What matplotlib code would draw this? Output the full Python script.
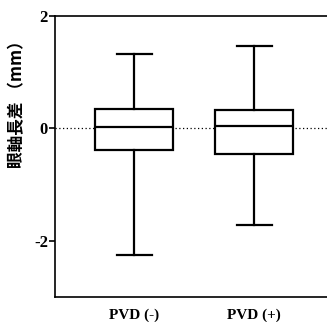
import matplotlib
matplotlib.use("Agg")
import matplotlib.pyplot as plt

# 箱ひげ図の値 (眼軸長差, mm)
groups = ["PVD (-)", "PVD (+)"]
whislo = [-2.25, -1.72]
q1 = [-0.39, -0.46]
med = [0.02, 0.04]
q3 = [0.34, 0.32]
whishi = [1.33, 1.47]
yticks = [-2, 0, 2]

stats = []
for i, g in enumerate(groups):
    stats.append({"label": g, "whislo": whislo[i], "q1": q1[i], "med": med[i],
                  "q3": q3[i], "whishi": whishi[i], "fliers": []})

fig = plt.figure(figsize=(3.27, 3.22), dpi=100)
# 右側は画像の外まで続く
ax = fig.add_axes([55 / 327, 25 / 322, 300 / 327, 281 / 322])

ax.axhline(0, color="black", linestyle=(0, (1, 2)), linewidth=0.9, zorder=1)

lw = 1.6
ax.bxp(stats, positions=[1, 2], widths=0.65, capwidths=0.29, showfliers=False,
       patch_artist=True,
       boxprops=dict(facecolor="white", edgecolor="black", linewidth=lw),
       medianprops=dict(color="black", linewidth=lw),
       whiskerprops=dict(color="black", linewidth=lw),
       capprops=dict(color="black", linewidth=lw),
       zorder=3)

ax.set_xlim(0.34, 0.34 + 300 / 120)
ax.set_ylim(-3, 2)
ax.set_yticks(yticks)
ax.set_yticklabels([str(t) for t in yticks], fontfamily="Liberation Serif",
                   fontweight="bold", fontsize=12)
ax.tick_params(axis="y", direction="out", length=4, width=1.2, pad=1)
ax.tick_params(axis="x", length=0, pad=8)
ax.set_xticklabels(groups, fontfamily="Liberation Serif", fontweight="bold", fontsize=11)
for s in ax.spines.values():
    s.set_linewidth(1.2)
ax.spines["right"].set_visible(False)

fig.text(17 / 327, 1 - 100 / 322, "眼軸長差 （mm）", rotation=90, ha="center", va="center",
         fontsize=12, fontweight="bold", family=["Noto Sans CJK JP", "DejaVu Sans"])

fig.savefig("out.png", dpi=100)
